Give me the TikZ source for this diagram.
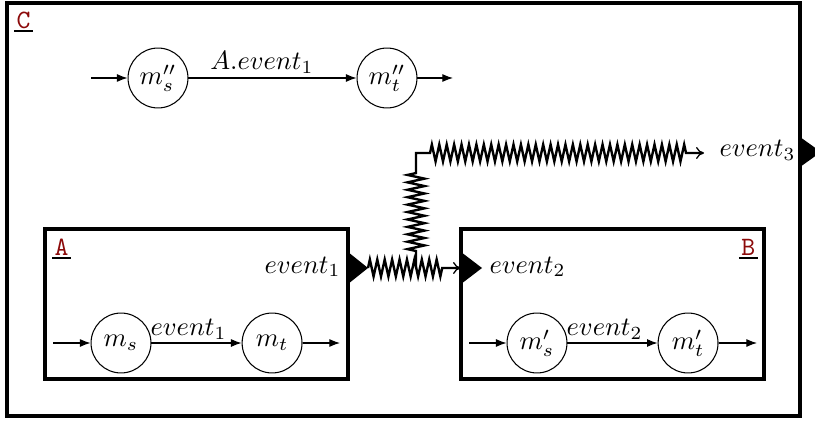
\documentclass[tikz,border=0pt]{standalone}
\usepackage{amsmath}
\usetikzlibrary{arrows.meta,positioning,decorations.pathmorphing,calc}
\definecolor{NameRed}{RGB}{140,10,10}

\begin{document}
\begin{tikzpicture}[
    x=0.3773pt, y=-0.3773pt,
    node distance=34pt,
    state/.style={circle, draw, thin, minimum size=22.6pt, inner sep=0pt},
    trans/.style={-{Latex[length=4pt,width=3pt]}, thin},
    frame/.style={draw, line width=1.15pt},
    compname/.style={font=\ttfamily, text=NameRed, inner sep=0.8pt},
    uline/.style={line width=1pt},
    zz/.style={line width=0.9pt, decoration={zigzag, segment length=2.8pt, amplitude=3.2pt}},
    zzarrow/.style={zz, -{To[length=3pt, width=4.5pt, line width=0.5pt]}}
]
    \useasboundingbox (0,0) rectangle (815,421);

    % component frames
    \draw[frame] (7,3) rectangle (800,416);
    \draw[frame] (45,229) rectangle (348,379);
    \draw[frame] (461,229) rectangle (764,379);

    \node[compname, anchor=south west] (nameC) at (14,31) {C};
    \draw[uline] (nameC.south west) -- (nameC.south east);
    \node[compname, anchor=south west] (nameA) at (52,258) {A};
    \draw[uline] (nameA.south west) -- (nameA.south east);
    \node[compname, anchor=south east] (nameB) at (758,258) {B};
    \draw[uline] (nameB.south west) -- (nameB.south east);

    % ports
    \coordinate (outA) at (368,268);
    \coordinate (inB) at (461,268);
    \coordinate (outC) at (800,152);
    \fill (348,252) -- (outA) -- (348,284) -- cycle;
    \fill (inB) ++(0,-16) -- ++(21,16) -- ++(-21,16) -- cycle;
    \fill (outC) ++(0,-15) -- ++(21,15) -- ++(-21,15) -- cycle;

    \node[anchor=base east, inner sep=0pt] (evA) at (341,273) {$event_1$};
    \node[anchor=base west, inner sep=0pt] (evB) at (489,273) {$event_2$};
    \node[anchor=base west, inner sep=0pt] (evC) at (719,157) {$event_3$};

    % machine of C
    \node[state] (mss) at (158,78) {$m''_s$};
    \node[state] (mtt) at (387,78) {$m''_t$};
    \coordinate (inC) at (91,78);
    \coordinate (endC) at (453,78);
    \draw[trans] (inC) -- (mss);
    \draw[trans] (mss) -- node[above, inner sep=1.5pt, xshift=-4pt] {$A.event_1$} (mtt);
    \draw[trans] (mtt) -- (endC);

    % machine of A
    \node[state] (ms) at (121,343) {$m_s$};
    \node[state, right=of ms] (mt) {$m_t$};
    \coordinate (inAm) at (53,343);
    \coordinate (endA) at (340,343);
    \draw[trans] (inAm) -- (ms);
    \draw[trans] (ms) -- node[above, inner sep=1pt, xshift=-3pt] {$event_1$} (mt);
    \draw[trans] (mt) -- (endA);

    % machine of B
    \node[state] (ms2) at (537,343) {$m'_s$};
    \node[state, right=of ms2] (mt2) {$m'_t$};
    \coordinate (inBm) at (469,343);
    \coordinate (endB) at (757,343);
    \draw[trans] (inBm) -- (ms2);
    \draw[trans] (ms2) -- node[above, inner sep=1pt, xshift=-3pt] {$event_2$} (mt2);
    \draw[trans] (mt2) -- (endB);

    % event wiring
    \coordinate (zend) at (444,268);
    \coordinate (junc) at (416,268);
    \coordinate (vlo) at (416,251);
    \coordinate (vhi) at (416,170);
    \coordinate (bend) at (416,153);
    \coordinate (hlo) at (430,153);
    \coordinate (hhi) at (688,153);
    \coordinate (tipC) at (704,153);
    \draw[zzarrow] (outA) decorate{-- (zend)} -- (inB);
    \draw[zzarrow] (junc) -- (vlo) decorate{-- (vhi)} -- (bend) -- (hlo) decorate{-- (hhi)} -- (tipC);
\end{tikzpicture}
\end{document}
